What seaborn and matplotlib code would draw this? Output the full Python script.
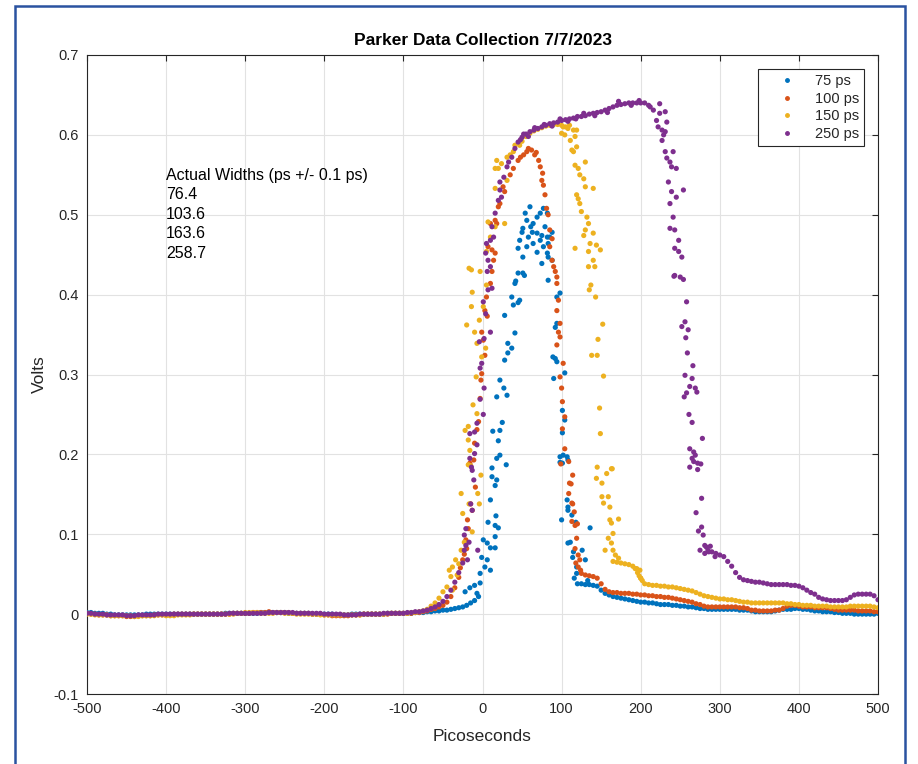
import matplotlib
matplotlib.use("Agg")
import matplotlib.pyplot as plt
import seaborn as sns
import pandas as pd
from matplotlib.lines import Line2D
from matplotlib.patches import Rectangle

nan = float("nan")

# ---------------- data (time in ps, voltage in mV) ----------------
series_labels = ["75 ps", "100 ps", "150 ps", "250 ps"]
series_colors = ["#0072BD", "#D95319", "#EDB120", "#7E2F8E"]

t_grid_ps = [
    -500, -495, -490, -485, -480, -475, -470, -465, -460, -455,
    -450, -445, -440, -435, -430, -425, -420, -415, -410, -405,
    -400, -395, -390, -385, -380, -375, -370, -365, -360, -355,
    -350, -345, -340, -335, -330, -325, -320, -315, -310, -305,
    -300, -295, -290, -285, -280, -275, -270, -265, -260, -255,
    -250, -245, -240, -235, -230, -225, -220, -215, -210, -205,
    -200, -195, -190, -185, -180, -175, -170, -165, -160, -155,
    -150, -145, -140, -135, -130, -125, -120, -115, -110, -105,
    -100, -95, -90, -85, -80, -75, -70, -65, -60, -55,
    -50, -45, -40, -35, -30, -25, -20, -15, -10, -5,
    0, 5, 10, 15, 20, 25, 30, 35, 40, 45,
    50, 55, 60, 65, 70, 75, 80, 85, 90, 95,
    100, 105, 110, 115, 120, 125, 130, 135, 140, 145,
    150, 155, 160, 165, 170, 175, 180, 185, 190, 195,
    200, 205, 210, 215, 220, 225, 230, 235, 240, 245,
    250, 255, 260, 265, 270, 275, 280, 285, 290, 295,
    300, 305, 310, 315, 320, 325, 330, 335, 340, 345,
    350, 355, 360, 365, 370, 375, 380, 385, 390, 395,
    400, 405, 410, 415, 420, 425, 430, 435, 440, 445,
    450, 455, 460, 465, 470, 475, 480, 485, 490, 495,
    500,
]

grid_75_mv = [
    2, 2, 1, 1, 1, 0, 0, -1, -1, -1,
    -1, -1, -1, -1, -1, 0, 0, 0, 0, 0,
    0, 0, 0, 0, 0, 0, 0, 0, 0, 0,
    0, 0, 0, 0, 0, 1, 1, 1, 1, 1,
    1, 1, 1, 1, 2, 2, 2, 2, 2, 2,
    2, 1, 1, 1, 1, 1, 1, 0, 0, 0,
    0, 0, 0, -1, -1, -1, -1, 0, 0, 0,
    0, 0, 0, 0, 0, 0, 1, 1, 1, 1,
    1, 1, 1, 2, 2, 2, 3, 3, 4, 4,
    5, 5, 6, 7, 8, 9, 11, 14, 17, nan,
    nan, nan, nan, nan, nan, nan, nan, nan, nan, nan,
    nan, nan, nan, nan, nan, nan, nan, nan, nan, nan,
    nan, nan, nan, nan, 38, 38, 37, 37, 36, 35,
    30, 26, 24, 22, 21, 20, 19, 18, 17, 16,
    15, 15, 14, 14, 13, 12, 12, 12, 11, 11,
    10, 10, 9, 9, 8, 7, 7, 6, 6, 6,
    6, 6, 6, 6, 6, 5, 5, 5, 4, 3,
    3, 3, 3, 3, 4, 5, 6, 6, 6, 7,
    7, 6, 6, 5, 4, 4, 3, 3, 3, 2,
    2, 1, 1, 1, 0, 0, 0, 0, 0, 0,
    1,
]

grid_100_mv = [
    1, 0, 0, -1, -1, -1, -2, -2, -2, -2,
    -3, -3, -3, -2, -2, -2, -2, -1, -1, -1,
    -1, -1, 0, 0, 0, 0, 0, 0, 0, 0,
    0, 0, 0, 0, 0, 0, 0, 1, 1, 1,
    1, 1, 2, 2, 2, 2, 3, 2, 2, 2,
    2, 2, 1, 1, 1, 1, 1, 0, 0, 0,
    -1, -1, -2, -2, -2, -2, -2, -1, -1, -1,
    0, 0, 0, 0, 0, 0, 0, 1, 1, 1,
    1, 1, 1, 2, 2, 3, 4, 6, 7, 9,
    11, 15, 22, 33, 46, nan, nan, nan, nan, nan,
    nan, nan, nan, nan, nan, nan, nan, nan, nan, nan,
    nan, nan, nan, nan, nan, nan, nan, nan, nan, nan,
    nan, nan, nan, nan, nan, 51, 49, 48, 47, 45,
    38, 31, 28, 27, 27, 26, 26, 26, 25, 25,
    24, 24, 23, 23, 22, 22, 21, 21, 20, 19,
    18, 17, 16, 15, 13, 12, 10, 9, 9, 9,
    9, 9, 9, 9, 9, 8, 8, 7, 5, 5,
    4, 4, 4, 4, 5, 5, 7, 10, 11, 11,
    10, 9, 9, 9, 8, 8, 8, 8, 7, 6,
    5, 5, 5, 5, 5, 4, 4, 4, 4, 3,
    3,
]

grid_150_mv = [
    0, 0, -1, -1, -1, -1, -2, -2, -2, -2,
    -2, -2, -3, -3, -2, -2, -2, -2, -1, -1,
    -2, -2, -2, -1, -1, -1, -1, 0, 0, 0,
    0, 0, 0, 0, 0, 0, 0, 0, 1, 1,
    2, 2, 2, 2, 1, 1, 1, 1, 2, 2,
    1, 1, 1, 0, 0, 0, 0, 0, 0, -1,
    -1, -1, -1, -1, -1, -1, -1, -1, -1, -1,
    0, 0, 0, 0, 0, 0, 1, 1, 1, 1,
    1, 1, 2, 2, 3, 4, 6, 10, 14, 20,
    28, 34, nan, nan, nan, nan, nan, nan, nan, nan,
    nan, nan, nan, nan, nan, nan, nan, nan, nan, nan,
    592, 598, 602, 605, 607, 609, 611, 612, 613, 613,
    612, 610, nan, nan, nan, nan, nan, nan, nan, nan,
    nan, nan, nan, 66, 65, 64, 63, 62, 60, 57,
    45, 38, 37, 36, 36, 35, 35, 34, 34, 33,
    32, 31, 30, 29, 27, 25, 23, 22, 21, 20,
    19, 19, 18, 18, 17, 16, 15, 15, 14, 14,
    14, 14, 14, 14, 14, 14, 14, 13, 13, 12,
    12, 11, 11, 11, 10, 10, 10, 10, 9, 9,
    9, 9, 9, 10, 10, 10, 10, 10, 10, 9,
    8,
]

grid_250_mv = [
    1, 1, 0, 0, 0, -1, -1, -1, -1, -1,
    -2, -2, -2, -1, -1, -1, -1, -1, 0, 0,
    0, 0, 0, 0, 0, 0, 0, 0, 0, 0,
    0, 0, 0, 0, 0, 0, 1, 1, 1, 1,
    1, 1, 1, 1, 1, 1, 2, 2, 2, 2,
    2, 2, 2, 1, 1, 1, 1, 1, 1, 1,
    0, 0, 0, 0, 0, -1, -1, -1, -1, 0,
    0, 0, 0, 0, 0, 1, 1, 1, 1, 1,
    1, 2, 2, 3, 3, 4, 5, 7, 9, 12,
    16, 22, 30, 40, 52, nan, nan, nan, nan, nan,
    nan, nan, nan, nan, nan, nan, nan, nan, nan, nan,
    597, 601, 604, 606, 608, 610, 612, 614, 615, 616,
    618, 619, 620, 621, 623, 623, 624, 626, 627, 628,
    629, 631, 633, 635, 637, 638, 639, 640, 640, 640,
    640, 640, 637, nan, nan, nan, nan, nan, nan, nan,
    nan, nan, nan, nan, nan, nan, nan, 80, 78, 76,
    74, 72, 66, 60, 52, 46, 43, 42, 41, 40,
    40, 39, 38, 37, 37, 37, 37, 37, 36, 36,
    35, 33, 30, 27, 25, 21, 19, 18, 17, 17,
    17, 17, 18, 21, 24, 25, 25, 25, 25, 23,
    18,
]

# scattered samples on the edges: (ps, mV)
edge_75 = [
    (-5, 22), (-22, 28), (-16, 33), (-10, 36), (-3, 39), (-7, 26), (-3, 51), (3, 59), (10, 55),
    (-1, 71), (6, 68), (1, 93), (10, 83), (16, 83), (6, 89), (16, 97), (7, 115), (16, 111),
    (20, 108), (17, 123), (10, 143), (16, 161), (18, 168), (12, 172), (12, 183), (30, 187),
    (18, 195), (22, 199), (20, 217), (13, 229), (22, 230), (25, 240), (31, 274), (18, 272),
    (22, 293), (27, 283), (28, 318), (32, 339), (32, 327), (37, 333), (41, 352), (28, 374),
    (45, 390), (37, 397), (39, 387), (47, 393), (41, 414), (42, 417), (45, 427), (53, 424),
    (54, 502), (60, 510), (69, 497), (56, 493), (64, 489), (73, 502), (77, 508), (51, 483),
    (63, 478), (69, 477), (75, 474), (82, 472), (58, 472), (47, 468), (64, 464), (73, 468),
    (77, 460), (45, 458), (56, 460), (69, 453), (82, 452), (83, 464), (85, 472), (88, 478),
    (83, 447), (51, 447), (75, 439), (82, 502), (50, 478), (61, 485), (79, 485), (51, 427),
    (88, 443), (83, 418), (98, 402), (94, 397), (94, 364), (92, 359), (92, 320), (89, 322),
    (94, 316), (90, 295), (104, 302), (101, 255), (104, 243), (101, 227), (98, 197), (107, 197),
    (102, 199), (108, 193), (98, 190), (101, 189), (100, 118), (108, 130), (111, 90), (114, 71),
    (119, 59), (107, 143), (108, 134), (113, 124), (118, 115), (136, 108), (108, 89), (115, 78),
    (126, 80), (130, 68), (119, 51), (116, 45), (133, 42),
]

edge_100 = [
    (-25, 68), (-21, 93), (-20, 82), (-18, 107), (-19, 118), (-13, 130), (-15, 138), (-9, 159),
    (-11, 193), (-16, 189), (-10, 214), (-7, 231), (-5, 241), (-3, 270), (-2, 293), (-1, 301),
    (3, 324), (1, 343), (-1, 353), (6, 373), (3, 380), (5, 397), (10, 414), (12, 429), (14, 443),
    (16, 452), (12, 456), (7, 460), (10, 489), (16, 493), (18, 489), (20, 510), (22, 514),
    (26, 535), (28, 529), (35, 550), (39, 558), (45, 568), (-28, 58), (-23, 75),
    (48, 572), (52, 575), (56, 579), (58, 583), (62, 581), (66, 575), (68, 578), (71, 568),
    (73, 560), (76, 552), (75, 543), (77, 537), (79, 525), (81, 508), (83, 500), (85, 481),
    (88, 470), (85, 460), (88, 443), (90, 435), (94, 422), (92, 429), (94, 414), (96, 393),
    (94, 380), (98, 364), (96, 353), (98, 347), (94, 337), (102, 314), (98, 297), (100, 283),
    (101, 266), (104, 247), (101, 232), (104, 207), (109, 191), (99, 188), (114, 174), (112, 163),
    (110, 164), (109, 151), (114, 138), (113, 139), (116, 128), (113, 116), (117, 111), (120, 113),
    (119, 95), (117, 82), (121, 74), (123, 68), (121, 59), (124, 55), (118, 64),
]

edge_150 = [
    (-40, 47), (-38, 59), (-42, 55), (-38, 30), (-32, 49), (-30, 63), (-27, 80), (-23, 90),
    (-34, 68), (-25, 126), (-27, 151), (-17, 138), (-13, 103), (-4, 138), (-6, 151), (-2, 174),
    (-15, 186), (-18, 187), (-16, 205), (-18, 218), (-22, 230), (-18, 235), (-7, 251), (-12, 262),
    (-8, 297), (-1, 322), (4, 333), (-7, 339), (-10, 353), (-4, 368), (-20, 362), (-14, 385),
    (1, 385), (5, 412), (-3, 429), (-14, 431), (-17, 433), (-13, 403), (5, 454), (10, 472),
    (16, 485), (28, 489), (7, 491), (16, 533), (16, 558), (20, 558), (24, 564), (31, 543),
    (39, 579), (47, 587), (41, 587), (31, 572), (18, 568), (35, 575),
    (102, 610), (104, 600), (111, 593), (113, 581), (117, 562), (119, 525), (117, 458), (115, 606),
    (119, 606), (100, 602), (117, 598), (115, 579), (119, 585), (121, 558), (130, 566), (123, 550),
    (128, 545), (130, 535), (140, 533), (121, 520), (123, 514), (125, 504), (132, 497), (134, 489),
    (130, 481), (128, 474), (140, 477), (136, 464), (144, 462), (134, 454), (149, 456), (140, 443),
    (134, 435), (142, 435), (137, 412), (135, 406), (143, 397), (152, 363), (146, 344), (138, 324),
    (145, 324), (153, 298), (148, 258), (149, 226), (145, 184), (164, 182), (157, 176), (163, 182),
    (144, 170), (151, 164), (151, 147), (159, 147), (153, 139), (161, 134), (161, 118), (172, 119),
    (163, 114), (165, 101), (159, 95), (163, 89), (155, 80), (165, 80), (168, 74), (172, 70),
    (110, 612), (108, 608), (193, 57), (196, 52), (198, 48), (200, 45), (202, 42), (199, 55),
]

edge_250 = [
    (-25, 64), (-23, 80), (-21, 86), (-17, 90), (-23, 99), (-21, 107), (-13, 130), (-15, 138),
    (-11, 168), (-13, 180), (-19, 68), (-6, 80), (-14, 184), (-16, 195), (-10, 201), (-7, 212),
    (-16, 226), (-10, 228), (-7, 239), (1, 250), (-3, 269), (2, 283), (-3, 308), (-1, 314),
    (2, 345), (-4, 341), (10, 353), (4, 376), (1, 391), (7, 406), (12, 408), (6, 429), (7, 443),
    (4, 452), (10, 435), (5, 464), (10, 468), (14, 472), (12, 485), (16, 502), (20, 518),
    (24, 522), (22, 531), (22, 541), (27, 547), (31, 560), (33, 566), (37, 572), (41, 583),
    (45, 591), (48, 594),
    (52, 601), (58, 598), (66, 609), (78, 613), (88, 611), (98, 620), (108, 617), (118, 620),
    (128, 627), (142, 624), (158, 628), (172, 642), (188, 637), (198, 643),
    (212, 635), (216, 631), (224, 639), (224, 627), (231, 629), (220, 618), (222, 610), (233, 616),
    (227, 606), (231, 604), (229, 600), (227, 593), (231, 579), (241, 579), (233, 571), (237, 566),
    (239, 560), (245, 558), (235, 541), (239, 529), (254, 531), (245, 522), (237, 514), (241, 497),
    (237, 483), (243, 481), (248, 468), (243, 458), (248, 454), (252, 447), (243, 424), (250, 422),
    (242, 423), (254, 419), (258, 391), (256, 366), (252, 360), (260, 356), (257, 346), (259, 327),
    (266, 311), (256, 299), (265, 295), (262, 285), (269, 283), (271, 278), (258, 277), (255, 272),
    (261, 250), (265, 240), (278, 220), (262, 207), (267, 203), (269, 199), (265, 195), (267, 191),
    (272, 189), (276, 188), (262, 184), (272, 181), (277, 145), (270, 127), (277, 109), (273, 104),
    (279, 99), (281, 86), (288, 85), (275, 80), (286, 78), (294, 72), (283, 84), (281, 76),
]

x_ticks = [-500, -400, -300, -200, -100, 0, 100, 200, 300, 400, 500]
x_tick_labels = ["-500", "-400", "-300", "-200", "-100", "0", "100", "200", "300", "400", "500"]
y_ticks = [-0.1, 0.0, 0.1, 0.2, 0.3, 0.4, 0.5, 0.6, 0.7]
y_tick_labels = ["-0.1", "0", "0.1", "0.2", "0.3", "0.4", "0.5", "0.6", "0.7"]
note_lines = ["Actual Widths (ps +/- 0.1 ps)", "76.4", "103.6", "163.6", "258.7"]
title_text = "Parker Data Collection 7/7/2023"

# ---------------- build table ----------------
rows = []
for label, grid, edge in zip(series_labels,
                             [grid_75_mv, grid_100_mv, grid_150_mv, grid_250_mv],
                             [edge_75, edge_100, edge_150, edge_250]):
    for t, v in zip(t_grid_ps, grid):
        if v == v:
            rows.append((t, v / 1000.0, label))
    for t, v in edge:
        rows.append((t, v / 1000.0, label))
df = pd.DataFrame(rows, columns=["Picoseconds", "Volts", "Series"])

# ---------------- draw ----------------
sns.set_style("white")
plt.rcParams["font.family"] = ["Liberation Sans", "DejaVu Sans"]
plt.rcParams["axes.unicode_minus"] = False

W, H = 918, 764
fig = plt.figure(figsize=(W / 100, H / 100), dpi=100)
fig.patch.set_facecolor("white")
ax = fig.add_axes([87 / W, (H - 694) / H, (878 - 87) / W, (694 - 55) / H])

palette = dict(zip(series_labels, series_colors))
sns.scatterplot(data=df, x="Picoseconds", y="Volts", hue="Series", hue_order=series_labels,
                palette=palette, s=14, linewidth=0, legend=False, ax=ax, zorder=3)

ax.set_xlim(-500, 500)
ax.set_ylim(-0.1, 0.7)
ax.set_xticks(x_ticks)
ax.set_xticklabels(x_tick_labels)
ax.set_yticks(y_ticks)
ax.set_yticklabels(y_tick_labels)
ax.grid(True, color="#e2e2e2", linewidth=0.8)
ax.set_axisbelow(True)
for sp in ax.spines.values():
    sp.set_color("#262626")
    sp.set_linewidth(0.8)
    sp.set_visible(True)
ax.tick_params(direction="in", length=4, width=0.8, top=True, right=True,
               colors="#262626", labelsize=10.5, pad=6)
ax.set_xlabel("Picoseconds", fontsize=12.5, color="#262626", labelpad=9)
ax.set_ylabel("Volts", fontsize=12.5, color="#262626", labelpad=5)
ax.set_title(title_text, fontsize=12.5, fontweight="bold", color="black", pad=7)

ax.text(-400, 0.559, "\n".join(note_lines), fontsize=11.5, ha="left", va="top",
        linespacing=1.38, color="black")

handles = [Line2D([0], [0], marker=".", linestyle="none", color=c, markersize=5)
           for c in series_colors]
leg = ax.legend(handles, series_labels, loc="upper right",
                bbox_to_anchor=((864 - 87) / 791, (694 - 69) / 639),
                frameon=True, fancybox=False, edgecolor="#262626", framealpha=1,
                fontsize=10.5, handlelength=3.3, handletextpad=0.25,
                labelspacing=0.25, borderpad=0.35, borderaxespad=0)
leg.get_frame().set_linewidth(0.8)

# blue document frame around the screenshot
fig.patches.append(Rectangle((15 / W, -0.05), (905 - 15) / W, 1 - 6 / H + 0.05,
                             transform=fig.transFigure, fill=False,
                             edgecolor="#2A52A0", linewidth=1.8))

fig.savefig("out.png", dpi=100, facecolor="white")
